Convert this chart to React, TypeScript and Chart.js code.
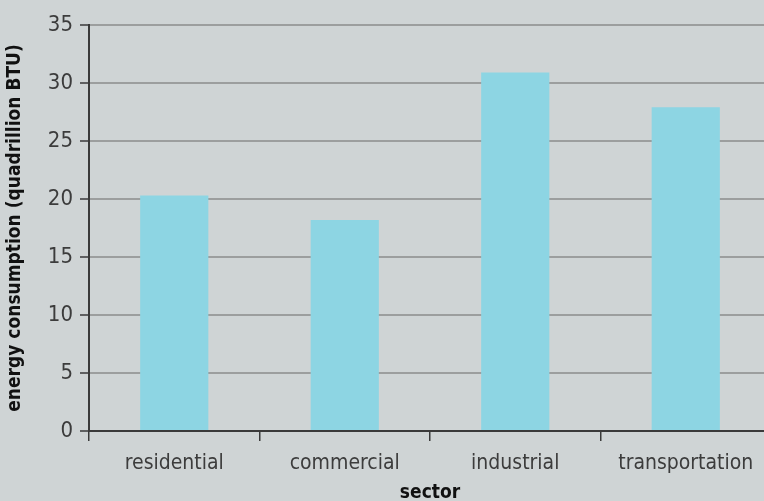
import React, { useEffect, useRef } from "react";
import { Chart, registerables } from "chart.js";

Chart.register(...registerables);

const categories = ["residential", "commercial", "industrial", "transportation"];
const consumption = [20.3, 18.2, 30.9, 27.9];
const yTicks = [0, 5, 10, 15, 20, 25, 30, 35];

const BG = "#cfd4d5";
const BAR = "#8dd5e3";
const GRID = "#9c9e9e";
const AXIS = "#3a3a3a";
const FONT = "'DejaVu Sans Condensed', 'Liberation Sans', sans-serif";

export default function App() {
  const ref = useRef<HTMLCanvasElement | null>(null);
  useEffect(() => {
    if (!ref.current) return;
    const chart = new Chart(ref.current, {
      type: "bar",
      data: {
        labels: categories,
        datasets: [
          {
            data: consumption,
            backgroundColor: BAR,
            borderWidth: 0,
            categoryPercentage: 1,
            barPercentage: 0.4,
          },
        ],
      },
      options: {
        animation: false,
        responsive: false,
        maintainAspectRatio: false,
        layout: { padding: { top: 25, left: 0, right: 1, bottom: 0 } },
        plugins: { legend: { display: false }, tooltip: { enabled: false } },
        scales: {
          x: {
            grid: {
              offset: true,
              drawOnChartArea: false,
              drawTicks: true,
              tickLength: 10,
              color: AXIS,
              lineWidth: 1.5,
            },
            border: { display: true, color: AXIS, width: 2 },
            ticks: { color: "#3c3c3c", font: { family: FONT, size: 21 }, padding: 10 },
            title: {
              display: true,
              text: "sector",
              color: "#111",
              font: { family: FONT, size: 19, weight: "bold" },
              padding: { top: 3, bottom: -3 },
            },
            afterFit: (s: any) => {
              s.height = 70;
            },
          },
          y: {
            min: 0,
            max: 35,
            afterBuildTicks: (s: any) => {
              s.ticks = yTicks.map((v) => ({ value: v }));
            },
            grid: {
              color: GRID,
              lineWidth: 2,
              tickLength: 9,
              tickColor: AXIS,
              tickWidth: 1.5,
            },
            border: { display: true, color: AXIS, width: 2 },
            ticks: { color: "#3c3c3c", font: { family: FONT, size: 22 }, padding: 7 },
            title: {
              display: true,
              text: "energy consumption (quadrillion BTU)",
              color: "#111",
              font: { family: FONT, size: 19, weight: "bold" },
              padding: { top: 4, bottom: 0 },
            },
            afterFit: (s: any) => {
              s.width = 89;
            },
          },
        },
      },
      plugins: [
        {
          id: "bg",
          beforeDraw: (c: any) => {
            const ctx = c.ctx;
            ctx.save();
            ctx.fillStyle = BG;
            ctx.fillRect(0, 0, c.width, c.height);
            ctx.restore();
          },
        },
      ],
    });
    return () => chart.destroy();
  }, []);
  return (
    <div
      style={{
        position: "fixed",
        left: 0,
        top: 0,
        width: 764,
        height: 501,
        overflow: "hidden",
        background: BG,
      }}
    >
      <canvas ref={ref} width={772} height={501} style={{ display: "block" }} />
    </div>
  );
}
